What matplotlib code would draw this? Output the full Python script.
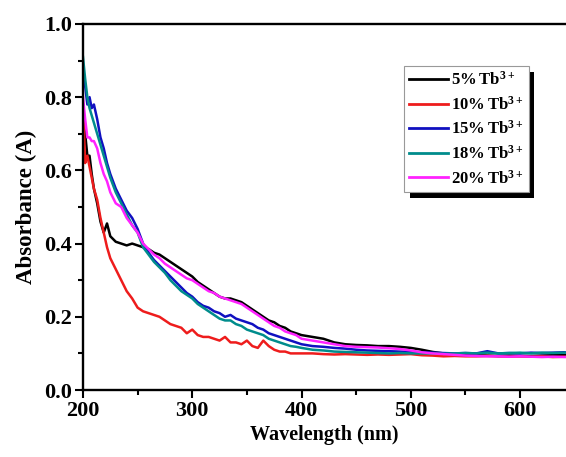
import matplotlib
matplotlib.use("Agg")
import matplotlib.pyplot as plt
import matplotlib.patheffects as pe
from matplotlib.ticker import MultipleLocator, FormatStrFormatter

plt.rcParams['font.family'] = ['Liberation Serif', 'DejaVu Serif']
plt.rcParams['font.weight'] = 'bold'
plt.rcParams['mathtext.fontset'] = 'custom'
plt.rcParams['mathtext.rm'] = 'Liberation Serif:bold'
plt.rcParams['mathtext.bf'] = 'Liberation Serif:bold'

wavelength = [200, 202, 204, 206, 208, 210, 213, 216, 219, 222, 225,
              230, 235, 240, 245, 250, 255, 260, 265, 270, 275, 280, 285, 290, 295, 300,
              305, 310, 315, 320, 325, 330, 335, 340, 345, 350, 355, 360, 365, 370,
              375, 380, 385, 390, 395, 400,
              410, 420, 430, 440, 450, 460, 470, 480, 490, 500, 510, 520, 530, 540,
              550, 560, 570, 580, 590, 600, 610, 620, 630, 640, 645]

tb5 = [0.74, 0.70, 0.64, 0.64, 0.59, 0.55, 0.51, 0.46, 0.43, 0.455, 0.42,
       0.405, 0.40, 0.395, 0.40, 0.395, 0.39, 0.385, 0.375, 0.37, 0.36, 0.35, 0.34, 0.33, 0.32, 0.31,
       0.295, 0.285, 0.275, 0.265, 0.255, 0.25, 0.25, 0.245, 0.24, 0.23, 0.22, 0.21, 0.20, 0.19,
       0.185, 0.175, 0.17, 0.16, 0.155, 0.15,
       0.145, 0.14, 0.13, 0.125, 0.123, 0.122, 0.12, 0.12, 0.118, 0.115, 0.11, 0.104, 0.10, 0.098,
       0.096, 0.095, 0.094, 0.093, 0.094, 0.093, 0.093, 0.094, 0.095, 0.095, 0.095]

tb10 = [0.78, 0.62, 0.64, 0.61, 0.58, 0.55, 0.52, 0.47, 0.43, 0.39, 0.36,
        0.33, 0.30, 0.27, 0.25, 0.225, 0.215, 0.21, 0.205, 0.20, 0.19, 0.18, 0.175, 0.17, 0.155, 0.165,
        0.15, 0.145, 0.145, 0.14, 0.135, 0.145, 0.13, 0.13, 0.125, 0.135, 0.12, 0.115, 0.135, 0.12,
        0.11, 0.105, 0.105, 0.10, 0.10, 0.10,
        0.10, 0.098, 0.097, 0.098, 0.097, 0.096, 0.097, 0.096, 0.097, 0.098, 0.095, 0.094, 0.092, 0.093,
        0.092, 0.092, 0.093, 0.092, 0.091, 0.092, 0.091, 0.092, 0.090, 0.091, 0.091]

tb15 = [0.88, 0.83, 0.78, 0.80, 0.77, 0.78, 0.74, 0.69, 0.66, 0.62, 0.59,
        0.55, 0.52, 0.49, 0.47, 0.44, 0.40, 0.375, 0.355, 0.34, 0.325, 0.31, 0.295, 0.28, 0.265, 0.255,
        0.24, 0.23, 0.225, 0.215, 0.21, 0.20, 0.205, 0.195, 0.19, 0.185, 0.18, 0.17, 0.165, 0.155,
        0.15, 0.145, 0.14, 0.135, 0.13, 0.125,
        0.12, 0.118, 0.115, 0.113, 0.11, 0.108, 0.107, 0.106, 0.105, 0.104, 0.103, 0.102, 0.101, 0.10,
        0.101, 0.10, 0.106, 0.10, 0.101, 0.10, 0.102, 0.101, 0.102, 0.103, 0.102]

tb18 = [0.91, 0.85, 0.80, 0.77, 0.75, 0.73, 0.70, 0.67, 0.64, 0.61, 0.58,
        0.54, 0.51, 0.48, 0.45, 0.43, 0.39, 0.37, 0.35, 0.335, 0.32, 0.30, 0.285, 0.27, 0.26, 0.25,
        0.235, 0.225, 0.215, 0.205, 0.195, 0.19, 0.19, 0.18, 0.175, 0.165, 0.16, 0.155, 0.15, 0.14,
        0.135, 0.13, 0.125, 0.12, 0.118, 0.115,
        0.11, 0.108, 0.105, 0.104, 0.103, 0.102, 0.101, 0.10, 0.101, 0.10, 0.10, 0.10, 0.099, 0.10,
        0.101, 0.10, 0.102, 0.10, 0.101, 0.102, 0.10, 0.102, 0.101, 0.102, 0.102]

tb20 = [0.80, 0.74, 0.69, 0.69, 0.68, 0.68, 0.66, 0.62, 0.59, 0.57, 0.54,
        0.51, 0.50, 0.47, 0.45, 0.43, 0.40, 0.385, 0.37, 0.36, 0.345, 0.335, 0.325, 0.315, 0.305, 0.30,
        0.29, 0.28, 0.27, 0.265, 0.255, 0.25, 0.245, 0.24, 0.235, 0.225, 0.215, 0.205, 0.195, 0.185,
        0.175, 0.17, 0.16, 0.155, 0.15, 0.14,
        0.135, 0.13, 0.125, 0.12, 0.118, 0.117, 0.116, 0.114, 0.112, 0.108, 0.103, 0.10, 0.098, 0.096,
        0.094, 0.093, 0.092, 0.092, 0.091, 0.092, 0.091, 0.090, 0.091, 0.090, 0.090]

series = [tb5, tb10, tb15, tb18, tb20]
labels = [r'$\mathbf{5\%\,Tb^{3+}}$', r'$\mathbf{10\%\,Tb^{3+}}$', r'$\mathbf{15\%\,Tb^{3+}}$',
          r'$\mathbf{18\%\,Tb^{3+}}$', r'$\mathbf{20\%\,Tb^{3+}}$']
colors = ['black', '#ee1c1c', '#1010c0', '#008c8c', '#ff22ff']

fig = plt.figure(figsize=(5.66, 4.57), dpi=100)
ax = fig.add_axes([0.1466, 0.1466, 0.8534, 0.801])

for y, lab, c in zip(series, labels, colors):
    ax.plot(wavelength, y, color=c, lw=1.8, label=lab)

ax.set_xlim(200, 642)
ax.set_ylim(0, 1.0)
ax.xaxis.set_major_locator(MultipleLocator(100))
ax.xaxis.set_minor_locator(MultipleLocator(50))
ax.yaxis.set_major_locator(MultipleLocator(0.2))
ax.yaxis.set_minor_locator(MultipleLocator(0.1))
ax.yaxis.set_major_formatter(FormatStrFormatter('%.1f'))
ax.tick_params(which='major', direction='out', length=6, width=1.5, labelsize=16, pad=2)
ax.tick_params(which='minor', direction='out', length=3.5, width=1.5)
ax.tick_params(top=False, right=False)
for s in ['left', 'bottom', 'top']:
    ax.spines[s].set_linewidth(1.7)
ax.spines['right'].set_visible(False)

ax.set_xlabel('Wavelength (nm)', fontsize=14.5, fontweight='bold', labelpad=3)
ax.set_ylabel('Absorbance (A)', fontsize=16.5, fontweight='bold', labelpad=5)

leg = ax.legend(loc='upper left', bbox_to_anchor=(0.665, 0.885), borderaxespad=0,
                fancybox=False, frameon=True, framealpha=1.0, fontsize=12, handlelength=2.3,
                handletextpad=0.2, labelspacing=0.4, borderpad=0.3)
frame = leg.get_frame()
frame.set_facecolor('white')
frame.set_edgecolor('#999999')
frame.set_linewidth(0.8)
frame.set_path_effects([pe.SimplePatchShadow(offset=(4, -4), shadow_rgbFace='black', alpha=1.0),
                        pe.Normal()])
for line in leg.get_lines():
    line.set_linewidth(2.0)

plt.savefig("out.png", dpi=100)
